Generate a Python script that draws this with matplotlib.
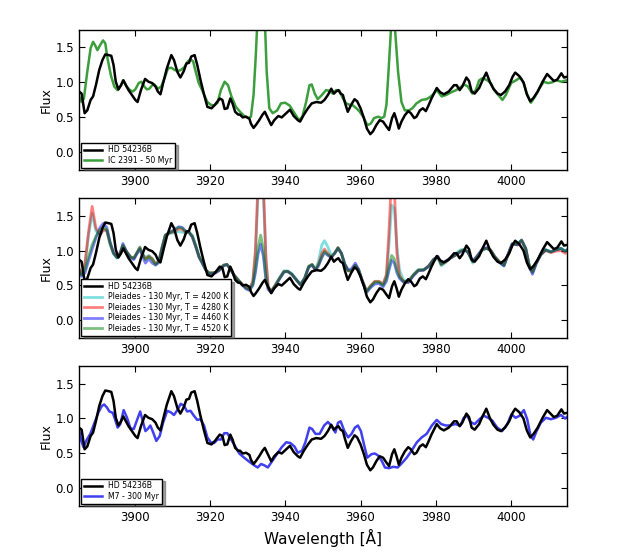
import matplotlib
matplotlib.use('Agg')

import matplotlib.pyplot as plt
import numpy as np

hd_wave = [3885.0, 3885.7, 3886.5, 3887.2, 3888.1, 3888.75, 3889.5, 3890.4, 3891.25, 3892.0,
           3892.9, 3893.6, 3894.2, 3894.8, 3895.5, 3896.2, 3896.8, 3897.5, 3898.2, 3899.1,
           3900.0, 3900.6, 3901.5, 3902.6, 3903.5, 3904.5, 3905.4, 3906.0, 3906.7, 3907.5,
           3908.4, 3909.6, 3910.3, 3911.2, 3912.0, 3912.9, 3913.6, 3914.3, 3914.9, 3915.8,
           3916.5, 3917.3, 3918.2, 3919.2, 3920.3, 3921.2, 3922.5, 3923.2, 3923.8, 3924.5,
           3925.3, 3925.9, 3926.6, 3927.4, 3927.9, 3928.6, 3929.5, 3930.4, 3930.8, 3931.5,
           3932.1, 3933.0, 3933.9, 3934.5, 3935.3, 3936.2, 3937.0, 3938.1, 3939.0, 3940.2,
           3941.2, 3942.2, 3943.3, 3943.9, 3944.9, 3946.0, 3947.0, 3948.2, 3949.5, 3950.4,
           3951.3, 3952.2, 3952.9, 3953.5, 3954.1, 3954.7, 3955.3, 3955.9, 3956.6, 3957.5,
           3958.4, 3959.1, 3960.0, 3960.9, 3961.7, 3962.6, 3963.3, 3964.2, 3965.1, 3966.0,
           3966.9, 3967.6, 3968.4, 3969.0, 3969.6, 3970.2, 3970.9, 3971.8, 3972.7, 3973.4,
           3974.3, 3974.9, 3975.8, 3976.6, 3977.4, 3978.1, 3978.9, 3980.3, 3981.2, 3982.2,
           3983.5, 3984.9, 3985.6, 3986.4, 3987.1, 3988.2, 3988.9, 3989.6, 3990.4, 3991.6,
           3992.5, 3993.5, 3994.5, 3995.4, 3996.5, 3997.4, 3998.5, 3999.6, 4000.5, 4001.2,
           4002.3, 4003.4, 4004.3, 4005.2, 4006.1, 4007.2, 4008.5, 4009.7, 4010.6, 4011.5,
           4012.4, 4013.5, 4014.2, 4015.7]
hd_flux = [0.87, 0.84, 0.56, 0.60, 0.75, 0.80, 0.96, 1.18, 1.32, 1.40,
           1.39, 1.38, 1.25, 1.01, 0.90, 0.96, 1.03, 0.96, 0.89, 0.82,
           0.75, 0.72, 0.89, 1.05, 1.01, 0.99, 0.94, 0.87, 0.83, 1.01,
           1.20, 1.39, 1.32, 1.15, 1.07, 1.16, 1.27, 1.28, 1.37, 1.39,
           1.25, 1.05, 0.85, 0.65, 0.63, 0.68, 0.77, 0.75, 0.62, 0.63,
           0.77, 0.70, 0.58, 0.54, 0.54, 0.50, 0.51, 0.48, 0.41, 0.35,
           0.39, 0.46, 0.54, 0.58, 0.49, 0.39, 0.46, 0.52, 0.50, 0.56,
           0.61, 0.52, 0.46, 0.44, 0.54, 0.63, 0.70, 0.72, 0.71, 0.75,
           0.82, 0.91, 0.84, 0.87, 0.89, 0.84, 0.82, 0.70, 0.58, 0.68,
           0.76, 0.73, 0.63, 0.49, 0.34, 0.26, 0.30, 0.39, 0.46, 0.44,
           0.37, 0.32, 0.49, 0.56, 0.46, 0.34, 0.44, 0.53, 0.59, 0.56,
           0.49, 0.51, 0.60, 0.63, 0.59, 0.67, 0.77, 0.92, 0.86, 0.83,
           0.87, 0.96, 0.96, 0.89, 0.94, 1.07, 1.02, 0.87, 0.84, 0.92,
           1.03, 1.14, 1.00, 0.91, 0.84, 0.82, 0.87, 0.96, 1.08, 1.14,
           1.09, 1.00, 0.83, 0.73, 0.78, 0.87, 1.01, 1.12, 1.07, 1.02,
           1.04, 1.13, 1.07, 1.09]

# IC 2391 - 50 Myr template
ic_wave = [3885.0, 3885.7, 3886.3, 3887.2, 3888.1, 3888.75, 3889.3, 3889.9, 3890.6, 3891.4,
           3892.0, 3892.6, 3893.5, 3894.4, 3895.3, 3896.2, 3896.8, 3897.7, 3898.6, 3899.3,
           3900.0, 3900.9, 3901.6, 3902.4, 3903.1, 3903.75, 3904.5, 3905.1, 3906.0, 3906.9,
           3907.8, 3908.7, 3909.6, 3910.4, 3911.3, 3912.2, 3913.1, 3914.0, 3914.7, 3915.4,
           3916.1, 3916.9, 3917.8, 3918.5, 3919.2, 3920.1, 3921.0, 3921.9, 3922.8, 3923.8,
           3924.7, 3925.6, 3926.8, 3927.9, 3929.0, 3930.1, 3930.8, 3931.5, 3932.1, 3932.8,
           3933.5, 3934.3, 3935.0, 3935.7, 3936.6, 3937.8, 3938.8, 3939.9, 3941.1, 3942.4,
           3943.6, 3944.5, 3945.5, 3946.4, 3947.0, 3947.8, 3948.6, 3949.7, 3950.8, 3951.7,
           3952.6, 3953.5, 3954.4, 3955.3, 3956.2, 3957.1, 3958.0, 3958.9, 3959.8, 3960.7,
           3961.8, 3962.7, 3963.6, 3964.7, 3965.6, 3966.3, 3966.9, 3967.5, 3968.1, 3968.6,
           3969.2, 3970.0, 3970.9, 3971.8, 3972.9, 3973.8, 3974.9, 3976.3, 3977.6, 3979.0,
           3980.3, 3981.6, 3982.8, 3984.2, 3985.5, 3986.6, 3987.6, 3988.6, 3989.8, 3990.7,
           3991.6, 3992.5, 3993.8, 3994.7, 3995.6, 3996.7, 3997.8, 3998.7, 4000.1, 4001.4,
           4002.6, 4003.5, 4004.3, 4005.4, 4006.5, 4007.6, 4008.8, 4009.9, 4011.0, 4012.1,
           4013.5, 4014.8, 4015.7]
ic_flux = [0.80, 0.72, 0.77, 1.15, 1.49, 1.58, 1.53, 1.46, 1.53, 1.60,
           1.56, 1.34, 1.10, 0.94, 0.89, 0.96, 1.03, 0.94, 0.89, 0.87,
           0.90, 0.99, 1.01, 0.94, 0.90, 0.91, 0.96, 0.97, 0.91, 0.94,
           1.06, 1.20, 1.21, 1.18, 1.16, 1.18, 1.22, 1.30, 1.33, 1.30,
           1.15, 0.99, 0.89, 0.80, 0.72, 0.68, 0.67, 0.71, 0.89, 1.01,
           0.96, 0.80, 0.65, 0.58, 0.52, 0.49, 0.51, 0.82, 1.39, 2.20,
           2.60, 2.20, 1.15, 0.63, 0.56, 0.60, 0.70, 0.71, 0.67, 0.56,
           0.46, 0.51, 0.72, 0.96, 0.97, 0.84, 0.76, 0.82, 0.89, 0.88,
           0.84, 0.89, 0.88, 0.77, 0.70, 0.68, 0.67, 0.63, 0.58, 0.51,
           0.39, 0.41, 0.49, 0.51, 0.49, 0.51, 0.68, 1.20, 1.75, 1.95,
           1.75, 1.15, 0.72, 0.60, 0.60, 0.63, 0.70, 0.75, 0.76, 0.81,
           0.89, 0.80, 0.82, 0.86, 0.89, 0.93, 0.97, 0.94, 0.84, 0.89,
           1.03, 1.06, 1.03, 0.99, 0.89, 0.82, 0.75, 0.82, 0.99, 1.03,
           1.07, 0.99, 0.84, 0.71, 0.80, 0.91, 1.01, 0.99, 1.00, 1.03,
           1.01, 1.03, 1.01]

# Pleiades - 130 Myr templates, common wavelength grid
pl_wave = [3885.0, 3885.7, 3886.6, 3887.5, 3888.5, 3889.5, 3890.6, 3891.5, 3892.4, 3893.3,
           3894.2, 3895.1, 3896.0, 3896.7, 3897.6, 3898.7, 3899.6, 3900.4, 3901.2, 3901.8,
           3902.7, 3903.6, 3904.5, 3905.4, 3906.3, 3907.1, 3908.0, 3908.9, 3909.8, 3910.7,
           3911.6, 3912.5, 3913.4, 3914.3, 3915.2, 3916.1, 3917.0, 3917.9, 3918.8, 3919.6,
           3920.5, 3921.4, 3922.3, 3923.5, 3924.4, 3925.3, 3926.3, 3927.4, 3928.6, 3929.5,
           3930.4, 3931.3, 3932.0, 3932.7, 3933.4, 3934.1, 3934.8, 3935.4, 3936.2, 3937.2,
           3938.4, 3939.6, 3940.6, 3941.7, 3942.9, 3944.0, 3945.1, 3946.2, 3947.1, 3948.0,
           3948.8, 3949.7, 3950.4, 3951.3, 3952.2, 3953.1, 3954.0, 3954.9, 3955.8, 3956.7,
           3957.6, 3958.6, 3959.5, 3960.4, 3961.6, 3962.7, 3963.8, 3964.9, 3966.0, 3966.9,
           3967.6, 3968.3, 3969.0, 3969.7, 3970.4, 3971.4, 3972.7, 3974.1, 3975.4, 3976.8,
           3978.1, 3979.4, 3980.6, 3981.5, 3982.7, 3983.9, 3985.2, 3986.6, 3987.7, 3988.6,
           3989.9, 3991.0, 3992.4, 3993.5, 3994.6, 3995.8, 3997.0, 3998.2, 3999.3, 4000.4,
           4001.8, 4002.9, 4004.0, 4004.9, 4005.8, 4006.8, 4008.0, 4009.3, 4010.7, 4012.0,
           4013.4, 4014.5, 4015.6]
pl_4200 = [0.74, 0.66, 0.80, 1.20, 1.53, 1.28, 1.22, 1.30, 1.28, 1.08,
           0.95, 0.89, 0.96, 1.06, 0.98, 0.91, 0.89, 0.97, 1.05, 0.97,
           0.90, 0.93, 0.89, 0.81, 0.86, 1.05, 1.22, 1.24, 1.25, 1.26,
           1.27, 1.26, 1.25, 1.26, 1.22, 1.08, 0.92, 0.82, 0.72, 0.68,
           0.68, 0.69, 0.72, 0.79, 0.80, 0.74, 0.65, 0.58, 0.51, 0.47,
           0.45, 0.55, 0.95, 1.80, 2.20, 1.80, 0.85, 0.48, 0.42, 0.50,
           0.61, 0.71, 0.71, 0.67, 0.59, 0.52, 0.61, 0.78, 0.80, 0.73,
           0.85, 1.08, 1.14, 1.05, 0.93, 0.96, 1.04, 0.96, 0.80, 0.71,
           0.71, 0.79, 0.72, 0.58, 0.42, 0.49, 0.55, 0.55, 0.52, 0.64,
           1.10, 1.65, 1.60, 1.05, 0.72, 0.58, 0.56, 0.66, 0.73, 0.73,
           0.77, 0.86, 0.89, 0.78, 0.83, 0.89, 0.95, 1.01, 1.02, 0.98,
           0.82, 0.89, 1.00, 1.03, 1.01, 0.91, 0.83, 0.78, 0.94, 1.09,
           1.10, 1.14, 1.02, 0.80, 0.69, 0.82, 0.94, 1.01, 0.98, 1.01,
           1.03, 0.99, 1.03]
pl_4280 = [0.74, 0.66, 0.82, 1.25, 1.63, 1.32, 1.22, 1.30, 1.28, 1.10,
           0.96, 0.91, 0.98, 1.07, 0.99, 0.91, 0.89, 0.96, 1.04, 0.96,
           0.88, 0.92, 0.88, 0.81, 0.85, 1.04, 1.22, 1.25, 1.26, 1.28,
           1.31, 1.30, 1.26, 1.26, 1.20, 1.06, 0.91, 0.82, 0.72, 0.68,
           0.68, 0.69, 0.72, 0.79, 0.80, 0.74, 0.65, 0.58, 0.51, 0.47,
           0.45, 0.56, 1.00, 2.00, 2.60, 2.00, 0.90, 0.48, 0.42, 0.50,
           0.60, 0.70, 0.70, 0.66, 0.58, 0.51, 0.60, 0.77, 0.80, 0.72,
           0.80, 0.96, 1.02, 0.96, 0.90, 0.96, 1.04, 0.96, 0.80, 0.71,
           0.71, 0.79, 0.72, 0.58, 0.42, 0.50, 0.56, 0.56, 0.52, 0.66,
           1.30, 2.10, 1.90, 0.95, 0.64, 0.56, 0.55, 0.65, 0.72, 0.72,
           0.78, 0.87, 0.91, 0.80, 0.84, 0.89, 0.93, 0.99, 1.01, 0.98,
           0.84, 0.91, 1.01, 1.03, 1.01, 0.91, 0.84, 0.79, 0.94, 1.09,
           1.08, 1.14, 1.03, 0.80, 0.69, 0.82, 0.94, 1.00, 0.97, 0.99,
           1.00, 0.96, 0.98]
pl_4460 = [0.70, 0.63, 0.68, 0.85, 1.02, 1.18, 1.33, 1.39, 1.33, 1.12,
           0.97, 0.90, 0.96, 1.10, 0.99, 0.90, 0.87, 0.95, 1.02, 0.93,
           0.82, 0.88, 0.82, 0.79, 0.83, 1.02, 1.21, 1.25, 1.28, 1.31,
           1.34, 1.33, 1.28, 1.26, 1.19, 1.05, 0.90, 0.81, 0.72, 0.67,
           0.67, 0.68, 0.71, 0.78, 0.80, 0.74, 0.64, 0.57, 0.50, 0.45,
           0.43, 0.50, 0.68, 0.95, 1.09, 0.92, 0.58, 0.44, 0.40, 0.48,
           0.59, 0.69, 0.70, 0.66, 0.58, 0.51, 0.60, 0.76, 0.79, 0.72,
           0.78, 0.90, 0.97, 0.93, 0.90, 0.96, 1.03, 0.96, 0.81, 0.72,
           0.74, 0.82, 0.73, 0.57, 0.40, 0.47, 0.52, 0.53, 0.48, 0.56,
           0.72, 0.86, 0.82, 0.68, 0.60, 0.55, 0.54, 0.64, 0.71, 0.72,
           0.77, 0.87, 0.92, 0.81, 0.85, 0.89, 0.93, 0.98, 1.01, 0.97,
           0.85, 0.92, 1.02, 1.04, 1.00, 0.90, 0.83, 0.78, 0.95, 1.10,
           1.08, 1.15, 1.03, 0.78, 0.66, 0.81, 0.94, 1.01, 0.98, 1.01,
           1.03, 0.99, 1.03]
pl_4520 = [0.72, 0.65, 0.72, 0.91, 1.08, 1.20, 1.30, 1.33, 1.30, 1.10,
           0.96, 0.90, 0.96, 1.08, 0.99, 0.91, 0.89, 0.96, 1.04, 0.96,
           0.87, 0.91, 0.87, 0.80, 0.84, 1.03, 1.22, 1.25, 1.27, 1.30,
           1.33, 1.32, 1.27, 1.26, 1.20, 1.06, 0.91, 0.82, 0.72, 0.68,
           0.68, 0.69, 0.72, 0.79, 0.80, 0.74, 0.65, 0.58, 0.51, 0.46,
           0.44, 0.51, 0.74, 1.05, 1.22, 1.02, 0.62, 0.46, 0.41, 0.49,
           0.60, 0.70, 0.70, 0.66, 0.58, 0.51, 0.60, 0.77, 0.80, 0.72,
           0.80, 0.91, 0.99, 0.94, 0.91, 0.96, 1.04, 0.96, 0.80, 0.71,
           0.71, 0.79, 0.72, 0.58, 0.41, 0.49, 0.55, 0.55, 0.50, 0.60,
           0.78, 0.93, 0.88, 0.72, 0.62, 0.56, 0.55, 0.65, 0.72, 0.72,
           0.77, 0.87, 0.91, 0.80, 0.84, 0.89, 0.93, 0.99, 1.01, 0.98,
           0.84, 0.91, 1.01, 1.03, 1.01, 0.91, 0.84, 0.79, 0.94, 1.09,
           1.09, 1.15, 1.03, 0.80, 0.69, 0.82, 0.94, 1.01, 0.98, 1.01,
           1.03, 0.99, 1.03]

# M7 - 300 Myr template
m7_wave = [3885.0, 3885.5, 3886.2, 3887.1, 3888.0, 3889.0, 3890.2, 3891.1, 3891.7, 3892.4,
           3893.1, 3894.0, 3894.6, 3895.3, 3896.0, 3896.9, 3897.8, 3898.7, 3899.6, 3900.4,
           3901.3, 3902.1, 3902.7, 3903.3, 3904.0, 3904.7, 3905.6, 3906.5, 3907.4, 3908.5,
           3909.4, 3910.3, 3911.2, 3912.1, 3913.0, 3913.8, 3914.7, 3915.6, 3916.5, 3917.4,
           3918.3, 3919.2, 3920.1, 3921.0, 3921.9, 3922.8, 3923.7, 3924.5, 3925.4, 3926.3,
           3927.7, 3929.0, 3930.4, 3931.7, 3932.6, 3933.5, 3934.4, 3935.3, 3936.2, 3937.1,
           3938.0, 3939.0, 3940.2, 3941.3, 3942.4, 3943.3, 3944.4, 3945.3, 3946.4, 3947.1,
           3948.0, 3949.1, 3950.3, 3951.3, 3952.2, 3953.3, 3954.0, 3954.7, 3955.7, 3956.7,
           3957.6, 3958.5, 3959.3, 3960.1, 3961.0, 3961.8, 3962.9, 3963.8, 3964.7, 3965.6,
           3966.5, 3967.6, 3968.7, 3969.9, 3971.0, 3972.3, 3973.6, 3975.0, 3976.3, 3977.6,
           3979.0, 3980.3, 3981.5, 3982.7, 3983.9, 3985.2, 3986.6, 3987.5, 3988.4, 3989.3,
           3990.4, 3991.7, 3992.8, 3994.0, 3995.1, 3996.4, 3997.7, 3999.1, 4000.2, 4001.3,
           4002.4, 4003.5, 4004.4, 4005.3, 4006.0, 4006.9, 4008.0, 4009.4, 4010.7, 4012.0,
           4013.4, 4014.5, 4015.6]
m7_flux = [0.85, 0.70, 0.59, 0.70, 0.78, 0.92, 1.09, 1.18, 1.20, 1.16,
           1.10, 1.08, 0.99, 0.87, 0.92, 1.12, 1.01, 0.86, 0.85, 0.97,
           1.10, 0.94, 0.82, 0.85, 0.90, 0.81, 0.68, 0.75, 0.94, 1.11,
           1.09, 1.05, 1.12, 1.21, 1.18, 1.10, 1.11, 1.04, 0.98, 0.99,
           0.90, 0.73, 0.66, 0.65, 0.70, 0.70, 0.79, 0.79, 0.71, 0.63,
           0.50, 0.44, 0.38, 0.33, 0.30, 0.35, 0.33, 0.30, 0.37, 0.44,
           0.51, 0.59, 0.66, 0.65, 0.60, 0.51, 0.54, 0.66, 0.87, 0.85,
           0.78, 0.78, 0.90, 0.95, 0.90, 0.80, 0.94, 0.96, 0.82, 0.73,
           0.78, 0.87, 0.90, 0.82, 0.61, 0.44, 0.49, 0.50, 0.47, 0.40,
           0.30, 0.29, 0.31, 0.30, 0.36, 0.44, 0.54, 0.66, 0.73, 0.78,
           0.90, 0.98, 0.92, 0.90, 0.90, 0.92, 0.90, 1.01, 1.04, 0.95,
           0.92, 0.99, 1.04, 1.01, 0.97, 0.87, 0.82, 0.92, 1.06, 1.01,
           1.04, 1.12, 0.99, 0.75, 0.70, 0.82, 0.94, 1.01, 0.99, 1.01,
           1.05, 1.00, 1.05]

pl_labels = ['Pleiades - 130 Myr, T = 4200 K', 'Pleiades - 130 Myr, T = 4280 K',
             'Pleiades - 130 Myr, T = 4460 K', 'Pleiades - 130 Myr, T = 4520 K']

xticks = [3900, 3920, 3940, 3960, 3980, 4000]
yticks = [0.0, 0.5, 1.0, 1.5]


def setupAxis(ax):
    ax.set_xlim(3885, 4015)
    ax.set_ylim(-0.25, 1.75)
    ax.set_xticks(xticks)
    ax.set_yticks(yticks)
    ax.set_yticklabels(['%.1f' % t for t in yticks])
    ax.tick_params(direction='in', top=True, right=True, length=4, labelsize=8.5)
    ax.set_ylabel('Flux', fontsize=9, labelpad=2)
    for s in ax.spines.values():
        s.set_linewidth(1.0)


def addLegend(ax):
    leg = ax.legend(loc='lower left', fontsize=5.6, shadow=True, fancybox=False,
                    framealpha=1, edgecolor='black', borderpad=0.35,
                    labelspacing=0.2, handlelength=2.3, borderaxespad=0.3)
    leg.get_frame().set_linewidth(1.0)


fig = plt.figure(figsize=(6.3, 5.57), dpi=100)

# Top panel: IC 2391
ax1 = fig.add_axes([0.1254, 0.695, 0.7746, 0.2513])
ax1.plot(hd_wave, hd_flux, color='black', lw=1.8, label='HD 54236B', zorder=3)
ax1.plot(ic_wave, ic_flux, color='#3c9e3c', lw=1.8, label='IC 2391 - 50 Myr', zorder=2)
setupAxis(ax1)
addLegend(ax1)

# Middle panel: Pleiades
ax2 = fig.add_axes([0.1254, 0.3932, 0.7746, 0.2513])
ax2.plot(hd_wave, hd_flux, color='black', lw=1.8, label='HD 54236B', zorder=3)
for flux, col, lab in zip([pl_4200, pl_4280, pl_4460, pl_4520], ['c', 'r', 'b', 'g'], pl_labels):
    ax2.plot(pl_wave, flux, color=col, lw=2, alpha=0.5, label=lab, zorder=2)
setupAxis(ax2)
addLegend(ax2)

# Bottom panel: M7
ax3 = fig.add_axes([0.1254, 0.0916, 0.7746, 0.2513])
ax3.plot(hd_wave, hd_flux, color='black', lw=1.8, label='HD 54236B', zorder=3)
ax3.plot(m7_wave, m7_flux, color='#4040f0', lw=1.8, label='M7 - 300 Myr', zorder=2)
setupAxis(ax3)
addLegend(ax3)
ax3.set_xlabel(u'Wavelength [\u00c5]', fontsize=11)

fig.savefig('out.png', dpi=100)
